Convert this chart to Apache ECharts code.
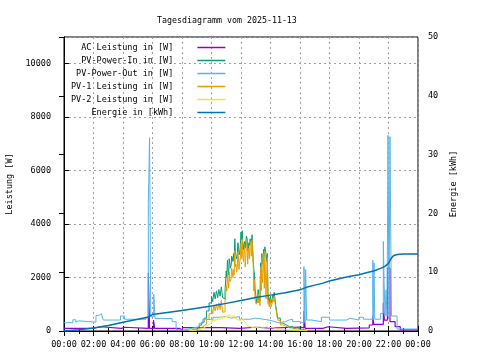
<!DOCTYPE html>
<html>
<head>
<meta charset="utf-8">
<script src="https://cdn.jsdelivr.net/npm/echarts@6/dist/echarts.min.js"></script>
<style>html,body{margin:0;padding:0;background:#fff}#c{width:480px;height:360px}</style>
</head>
<body>
<div id="c"></div>
<script>
const names = ['AC Leistung in [W]','PV-Power-In in [W]','PV-Power-Out in [W]','PV-1 Leistung in [W]','PV-2 Leistung in [W]','Energie in [kWh]'];
const xTicks = ['00:00','02:00','04:00','06:00','08:00','10:00','12:00','14:00','16:00','18:00','20:00','22:00','00:00'];

// AC Leistung (minutes of day, W)
const acT = [0,117,150,234,246,343,348,364,369,470,482,640,714,780,840,960,976,981,1053,1074,1149,1242,1256,1260,1299,1303,1316,1326,1347,1368,1440];
const acW = [100,160,100,140,100,2170,100,410,100,30,125,100,140,110,150,120,750,100,160,100,120,225,540,250,1060,410,2350,350,160,40,40];

// PV-Power-Out
const outT = [0,36,48,54,60,130,142,152,160,230,246,333,343,348,353,365,370,440,456,462,482,520,550,565,585,606,630,660,680,714,756,780,834,858,876,900,915,930,960,976,980,983,987,1008,1047,1080,1149,1164,1200,1218,1256,1259,1261,1264,1287,1299,1302,1306,1310,1314,1318,1322,1326,1332,1355,1440];
const outW = [310,420,330,380,330,580,650,580,410,560,440,515,4730,7230,530,1380,470,350,60,30,100,160,290,440,410,515,540,480,540,440,480,410,350,310,350,410,440,350,290,2410,330,2300,410,350,515,410,475,410,515,440,2650,440,2550,440,660,3350,1900,560,1540,560,7320,490,7270,560,75,75];

// Solar period samples (minutes of day)
const solarT = [510,520,530,540,550,560,570,580,590,600,605,610,615,620,625,630,635,640,645,650,655,
  660,662,665,667,670,672,675,677,680,682,685,687,690,692,695,697,700,702,705,707,710,712,715,717,
  720,722,725,727,730,732,735,737,740,742,745,747,750,752,755,757,760,762,765,767,770,772,775,777,
  780,782,785,787,790,792,795,797,800,802,805,807,810,812,815,817,820,822,825,827,830,832,835,837,
  840,842,845,847,850,852,855,857,860,862,865,867,870,
  880,890,900,910,920,930,940,950,960,970,980,990];
const inW = [30,50,80,140,220,330,480,750,1050,1300,1100,1450,1200,1500,1250,1550,1300,1650,1250,1200,1500,
  2250,2000,2650,2300,2100,2700,2500,2350,2450,2800,2700,2600,2900,2650,3450,3000,2950,2700,2800,3300,3200,2850,2950,3100,
  3700,3400,3750,3300,3050,3250,3350,3100,3150,3550,3450,3000,3100,3300,3200,3450,3500,3300,3600,3550,2600,2300,2100,1600,
  1350,1200,1050,1250,1550,1300,1250,1100,2550,2300,2900,2600,2500,3050,2800,3150,3100,2850,2600,2900,1150,1300,1050,1200,
  1300,1050,1000,1200,1350,1250,1450,1300,1250,900,750,600,480,
  300,250,200,150,180,100,120,80,60,40,20,0];
const pv1W = [20,30,50,90,130,190,260,430,650,850,650,950,750,1000,780,1050,800,1150,700,720,1050,
  1700,1500,2150,1800,1600,2200,1850,1900,1950,2350,2200,2000,2300,2100,3000,2400,2500,2200,2400,2950,2700,2300,2600,2700,
  3300,2700,3450,2800,2600,3000,3100,2400,2800,3350,3200,2500,2900,3100,2700,3200,3300,2800,3400,3450,2400,1500,1900,1200,
  1200,1000,950,1100,1400,1050,1150,950,2400,1500,2750,1800,2300,2900,1600,3000,2950,1200,2400,2750,1000,1150,900,1050,
  1150,900,850,1050,1200,1100,1300,1150,1100,800,650,520,400,
  230,190,150,110,130,70,80,50,40,20,10,0];
const pv2W = [10,20,30,50,80,120,180,240,300,360,420,370,450,400,480,430,520,460,540,480,560,
  560,520,600,560,500,620,580,640,600,540,520,560,580,520,540,470,460,500,450,420,400,380,400,370,
  350,400,430,470,450,380,400,330,300,250,210,230,190,170,150,170,160,140,120,130,110,120,100,110,
  110,130,120,160,130,150,120,180,170,140,150,190,160,140,150,170,140,160,130,150,120,110,130,120,
  140,150,130,110,100,110,100,90,90,80,80,70,70,
  60,50,50,40,40,30,30,20,20,10,10,0];

// Energie (kWh)
const enT = [0,60,120,180,240,300,340,360,420,480,540,600,660,720,780,840,900,960,990,1020,1050,1080,1110,1140,1170,1200,1230,1260,1290,1305,1320,1330,1340,1355,1380,1440];
const enV = [0,0.2,0.5,0.95,1.5,2.0,2.35,2.8,3.15,3.5,3.85,4.25,4.7,5.2,5.7,6.1,6.5,7.0,7.5,7.8,8.1,8.5,8.8,9.1,9.35,9.55,9.9,10.2,10.7,11.0,11.5,12.3,12.8,13.0,13.1,13.1];

const colors = ['#9400d3','#009e73','#56b4e9','#e69f00','#f0e442','#0072b2'];
const FONT = 'DejaVu Sans Mono';
const zip = (t, v) => t.map((x, i) => [x, v[i]]);

function mk(i, data, yIdx, w, step) {
  return {
    name: names[i], type: 'line', step: step, symbol: 'none', showSymbol: false, yAxisIndex: yIdx, xAxisIndex: 0,
    data: data, lineStyle: {color: colors[i], width: w}, itemStyle: {color: colors[i]},
    emphasis: {disabled: true}, animation: false
  };
}

const chart = echarts.init(document.getElementById('c'));
chart.setOption({
  animation: false,
  backgroundColor: '#fff',
  title: {text: 'Tagesdiagramm vom 2025-11-13', left: 152, top: 12,
    textStyle: {fontFamily: FONT, fontSize: 8.3, fontWeight: 'normal', color: '#000'}},
  legend: {
    orient: 'vertical', left: 66, top: 38, align: 'right',
    icon: 'rect', itemWidth: 28, itemHeight: 1.5, itemGap: 4,
    textStyle: {fontFamily: FONT, fontSize: 8.5, lineHeight: 9, color: '#000', padding: [0, 19, 0, 0]},
    data: names
  },
  grid: {left: 64, right: 62, top: 37, bottom: 29, outerBoundsMode: 'none', containLabel: false,
    show: true, borderColor: '#000', borderWidth: 1, backgroundColor: 'transparent'},
  xAxis: [{
    type: 'value', min: 0, max: 1440, interval: 120,
    axisLine: {lineStyle: {color: '#000'}},
    axisTick: {inside: true, length: 5, lineStyle: {color: '#000'}},
    minorTick: {show: true, splitNumber: 2, length: 3, lineStyle: {color: '#000'}},
    axisLabel: {fontFamily: FONT, fontSize: 8.5, color: '#000', margin: 9,
      formatter: v => xTicks[Math.round(v / 120)]},
    splitLine: {show: true, lineStyle: {color: '#a0a0a0', type: [2, 3]}}
  }, {
    type: 'value', min: 0, max: 1440, interval: 120, position: 'top',
    axisLine: {show: false},
    axisTick: {inside: true, length: 5, lineStyle: {color: '#000'}},
    minorTick: {show: true, splitNumber: 2, length: 3, lineStyle: {color: '#000'}},
    axisLabel: {show: false}, splitLine: {show: false}
  }],
  yAxis: [{
    type: 'value', min: 0, max: 11000, interval: 2000,
    name: 'Leistung [W]', nameLocation: 'middle', nameGap: 47, nameRotate: 90,
    nameTextStyle: {fontFamily: FONT, fontSize: 8.5, color: '#000'},
    axisLine: {show: true, lineStyle: {color: '#000'}},
    axisTick: {show: true, inside: true, length: 5, lineStyle: {color: '#000'}},
    axisLabel: {fontFamily: FONT, fontSize: 8.5, color: '#000', margin: 13, showMaxLabel: false,
      formatter: v => String(v)},
    splitLine: {show: true, lineStyle: {color: '#a0a0a0', type: [2, 3]}}
  }, {
    type: 'value', min: 0, max: 50, interval: 10, position: 'right',
    name: 'Energie [kWh]', nameLocation: 'middle', nameGap: 31, nameRotate: 90,
    nameTextStyle: {fontFamily: FONT, fontSize: 8.5, color: '#000'},
    axisLine: {show: true, lineStyle: {color: '#000'}},
    axisTick: {show: true, inside: true, length: 5, lineStyle: {color: '#000'}},
    axisLabel: {fontFamily: FONT, fontSize: 8.5, color: '#000', margin: 10, formatter: v => String(v)},
    splitLine: {show: false}
  }],
  series: [
    mk(0, zip(acT, acW), 0, 1.2, 'end'),
    mk(1, zip(solarT, inW), 0, 1, 'end'),
    mk(2, zip(outT, outW), 0, 1, 'end'),
    mk(3, zip(solarT, pv1W), 0, 1, 'end'),
    mk(4, zip(solarT, pv2W), 0, 1, 'end'),
    mk(5, zip(enT, enV), 1, 1.5, false)
  ]
});
</script>
</body>
</html>
